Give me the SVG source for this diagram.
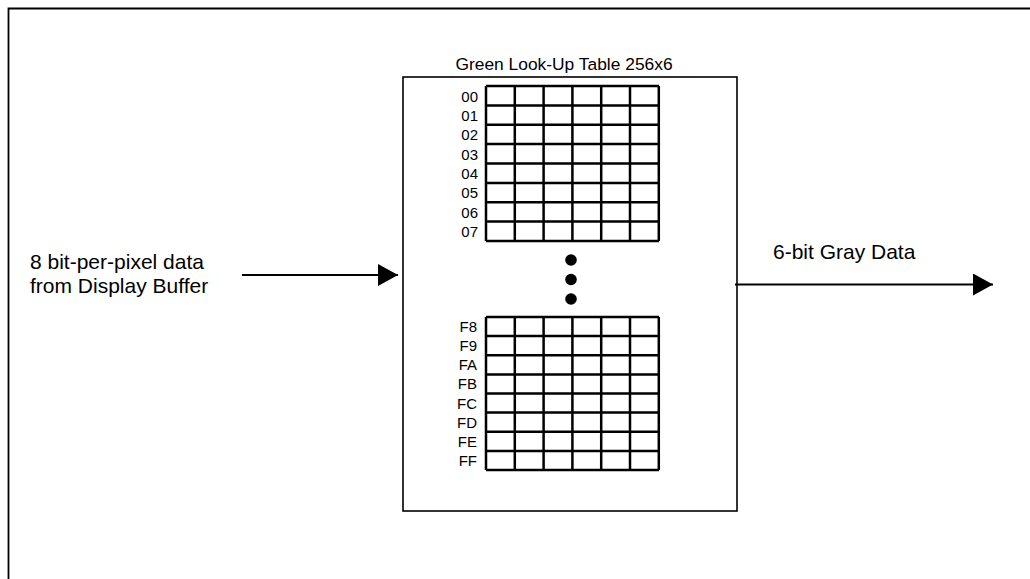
<svg xmlns="http://www.w3.org/2000/svg" width="1030" height="579" viewBox="0 0 1030 579">
<style>
.t{font-family:"Liberation Sans",Arial,sans-serif;fill:#000}
.lbl{font-size:21px}
.row{font-size:15px;text-anchor:end}
.grid{fill:none;stroke:#000;stroke-width:2.5}
.conn{stroke:#000;stroke-width:1.8;fill:none}
</style>
<defs>
<marker id="ah" markerUnits="userSpaceOnUse" markerWidth="20" markerHeight="22" refX="20" refY="11" orient="auto">
<path d="M0,0 L20,11 L0,22 Z" fill="#000"/>
</marker>
</defs>
<rect width="1030" height="579" fill="#fff"/>
<g id="frame"><path d="M8.5,579 L8.5,8.5 L1030,8.5" fill="none" stroke="#000" stroke-width="1.8"/></g>
<g id="lut">
<rect x="403" y="77" width="334" height="434" fill="none" stroke="#000" stroke-width="1.6"/>
<text class="t" x="564" y="70" font-size="17.4" text-anchor="middle">Green Look-Up Table 256x6</text>
<path class="grid" d="M486,86H659M486,105.4H659M486,124.8H659M486,144.1H659M486,163.5H659M486,182.9H659M486,202.3H659M486,221.6H659M486,241H659M486,86V241M514.8,86V241M543.6,86V241M572.4,86V241M601.2,86V241M630,86V241M658.8,86V241"/>
<path class="grid" d="M486,317H659M486,336.1H659M486,355.3H659M486,374.4H659M486,393.5H659M486,412.6H659M486,431.8H659M486,450.9H659M486,470H659M486,317V470M514.8,317V470M543.6,317V470M572.4,317V470M601.2,317V470M630,317V470M658.8,317V470"/>
<g class="t row">
<text x="478" y="101.5">00</text><text x="478" y="120.9">01</text><text x="478" y="140.3">02</text><text x="478" y="159.7">03</text>
<text x="478" y="179">04</text><text x="478" y="198.4">05</text><text x="478" y="217.8">06</text><text x="478" y="237.2">07</text>
<text x="477" y="332">F8</text><text x="477" y="351.1">F9</text><text x="477" y="370.3">FA</text><text x="477" y="389.4">FB</text>
<text x="477" y="408.5">FC</text><text x="477" y="427.6">FD</text><text x="477" y="446.8">FE</text><text x="477" y="465.9">FF</text>
</g>
<circle cx="571" cy="260" r="5.8"/><circle cx="571" cy="279.5" r="5.8"/><circle cx="571" cy="299" r="5.8"/>
</g>
<g id="input"><text class="t lbl" x="30" y="269">8 bit-per-pixel data</text><text class="t lbl" x="30" y="293">from Display Buffer</text></g>
<g id="output"><text class="t lbl" x="773" y="259">6-bit Gray Data</text></g>
<g id="connectors">
<line class="conn" x1="242" y1="275" x2="398" y2="275" marker-end="url(#ah)"/>
<line class="conn" x1="735" y1="284.5" x2="993" y2="284.5" marker-end="url(#ah)"/>
</g>
</svg>
